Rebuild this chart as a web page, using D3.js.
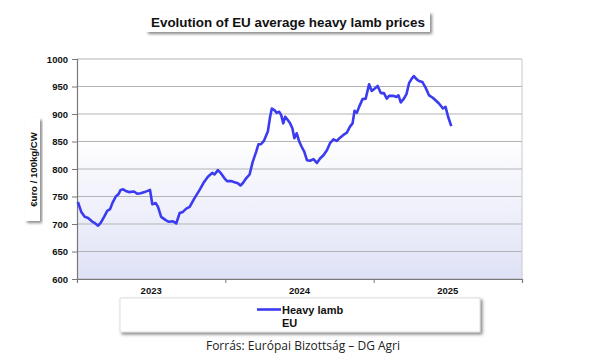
<!DOCTYPE html>
<html><head><meta charset="utf-8">
<script src="https://cdn.jsdelivr.net/npm/d3@7"></script>
<style>
html,body{margin:0;padding:0;background:#fff;}
svg{display:block;}
</style></head>
<body>
<svg id="c" width="600" height="355"></svg>
<script>
// ---- data ----
const title = "Evolution of EU average heavy lamb prices";
const yAxisTitle = "€uro / 100kg/CW";
const seriesName = ["Heavy lamb", "EU"];
const source = "Forrás: Európai Bizottság – DG Agri";
const yearLabels = ["2023", "2024", "2025"];
const yTicks = [600, 650, 700, 750, 800, 850, 900, 950, 1000];
// position in weeks from the start of the axis
const weeks = [0.3,1.5,2.7,3.9,5.4,6.2,7.4,8.3,9.5,10.6,11.6,12.4,13.6,14.5,15.3,16.2,17.1,18.2,20.0,21.1,22.3,23.7,25.6,26.4,27.6,28.4,29.5,31.1,32.2,33.6,34.8,36.0,37.1,38.3,39.5,41.2,43.0,44.5,45.9,47.4,48.2,49.4,50.5,51.7,52.6,54.0,55.2,56.4,57.3,58.1,59.3,60.5,61.6,62.8,63.6,64.5,65.5,65.9,66.9,67.7,68.3,69.2,70.0,70.9,71.6,72.3,73.0,73.9,74.7,75.5,76.2,77.0,77.9,78.8,79.7,80.6,81.7,82.9,84.1,85.2,86.4,87.6,88.7,89.9,91.1,92.2,93.4,94.6,95.7,96.6,97.3,98.1,98.9,100.1,101.2,102.4,103.3,104.5,105.4,106.5,107.6,108.6,109.4,110.8,112.0,112.7,113.5,114.6,115.5,116.4,117.3,118.1,119.1,119.9,121.1,122.2,123.4,124.6,125.7,126.9,128.3,129.2,130.1,131.2];
const prices = [740,722,713,711,704,702,697,702,713,724,727,738,750,754,762,763,760,758,759,755,756,758,762,736,738,731,713,707,704,705,701,720,722,728,731,747,762,776,786,793,790,798,792,783,778,778,776,774,770,774,783,790,813,831,845,845,851,856,868,895,910,907,902,904,898,883,895,889,883,874,856,865,850,840,831,816,815,818,811,819,825,834,847,854,851,857,862,866,877,883,906,902,913,927,928,954,942,947,951,938,938,928,933,933,931,934,921,928,936,956,964,969,963,960,958,948,934,930,925,919,910,913,895,878];

// ---- layout ----
const svg = d3.select("#c");
const L = 77, R = 522, T = 59, B = 279;
const defs = svg.append("defs");
const grad = defs.append("linearGradient").attr("id","bg").attr("x1",0).attr("y1",0).attr("x2",0).attr("y2",1);
grad.append("stop").attr("offset","0%").attr("stop-color","#ffffff");
grad.append("stop").attr("offset","35%").attr("stop-color","#ffffff");
grad.append("stop").attr("offset","100%").attr("stop-color","#dfe2f6");
const sh = defs.append("filter").attr("id","sh").attr("x","-10%").attr("y","-30%").attr("width","130%").attr("height","180%");
sh.append("feDropShadow").attr("dx",2).attr("dy",2).attr("stdDeviation",1.5).attr("flood-color","#555").attr("flood-opacity",0.7);

const x = d3.scaleLinear().domain([0,156]).range([L,R]);
const y = d3.scaleLinear().domain([600,1000]).range([B,T]);

// plot background
svg.append("rect").attr("x",L).attr("y",T).attr("width",R-L).attr("height",B-T).attr("fill","url(#bg)");

// gridlines
svg.append("g").selectAll("line").data(yTicks).join("line")
  .attr("x1",L).attr("x2",R).attr("y1",d=>y(d)).attr("y2",d=>y(d))
  .attr("stroke","#b4b4b8").attr("stroke-width",1.2);
// right border
svg.append("line").attr("x1",R).attr("x2",R).attr("y1",T).attr("y2",B).attr("stroke","#c8c8cc").attr("stroke-width",1);

// y axis
const yAxis = svg.append("g").attr("transform",`translate(${L},0)`)
  .call(d3.axisLeft(y).tickValues(yTicks).tickSize(5).tickPadding(4).tickFormat(d3.format("d")));
yAxis.select(".domain").attr("stroke","#777").attr("stroke-width",1.2);
yAxis.selectAll(".tick line").attr("stroke","#777");
yAxis.selectAll("text").attr("font-family","Liberation Sans, Arial, sans-serif").attr("font-size","9.5px").attr("font-weight","bold").attr("fill","#111");

// x axis
const xAxis = svg.append("g").attr("transform",`translate(0,${B})`)
  .call(d3.axisBottom(x).tickValues([0,52,104,156]).tickSize(4).tickFormat(""));
xAxis.select(".domain").attr("stroke","#777").attr("stroke-width",1.2);
xAxis.selectAll(".tick line").attr("stroke","#777");
svg.append("g").selectAll("text").data(yearLabels).join("text")
  .attr("x",(d,i)=>x(26+52*i)).attr("y",B+15).attr("text-anchor","middle")
  .attr("font-family","Liberation Sans, Arial, sans-serif").attr("font-size","9.5px").attr("font-weight","bold").attr("fill","#111")
  .text(d=>d);

// line
const pts = weeks.map((w,i)=>[w,prices[i]]);
svg.append("path").datum(pts)
  .attr("fill","none").attr("stroke","#3b3bf0").attr("stroke-width",2.6).attr("stroke-linejoin","round")
  .attr("d", d3.line().x(d=>x(d[0])).y(d=>y(d[1])));

// title box
const tg = svg.append("g");
tg.append("rect").attr("x",146).attr("y",12).attr("width",284).attr("height",20).attr("fill","#fff").attr("filter","url(#sh)");
tg.append("text").attr("x",288).attr("y",27).attr("text-anchor","middle")
  .attr("font-family","Liberation Sans, Arial, sans-serif").attr("font-size","13.4px").attr("font-weight","bold").attr("fill","#111")
  .text(title);

// y axis title box
const yg = svg.append("g");
yg.append("rect").attr("x",25).attr("y",118).attr("width",15).attr("height",103).attr("fill","#fff").attr("filter","url(#sh)");
yg.append("text").attr("transform","translate(36.5,169.5) rotate(-90)").attr("text-anchor","middle")
  .attr("font-family","Liberation Sans, Arial, sans-serif").attr("font-size","9.6px").attr("font-weight","bold").attr("fill","#111")
  .text(yAxisTitle);

// legend box
const lg = svg.append("g");
lg.append("rect").attr("x",120).attr("y",298).attr("width",360).attr("height",34).attr("fill","#fff").attr("stroke","#ddd").attr("filter","url(#sh)");
lg.append("line").attr("x1",257).attr("x2",281).attr("y1",309.5).attr("y2",309.5).attr("stroke","#3b3bf0").attr("stroke-width",2.6);
lg.selectAll("text").data(seriesName).join("text")
  .attr("x",282).attr("y",(d,i)=>314+i*13)
  .attr("font-family","Liberation Sans, Arial, sans-serif").attr("font-size","11px").attr("font-weight","bold").attr("fill","#111")
  .text(d=>d);

// source
svg.append("text").attr("x",303).attr("y",350).attr("text-anchor","middle")
  .attr("font-family","Open Sans, sans-serif").attr("font-size","12px").attr("fill","#222")
  .text(source);
</script>
</body></html>
